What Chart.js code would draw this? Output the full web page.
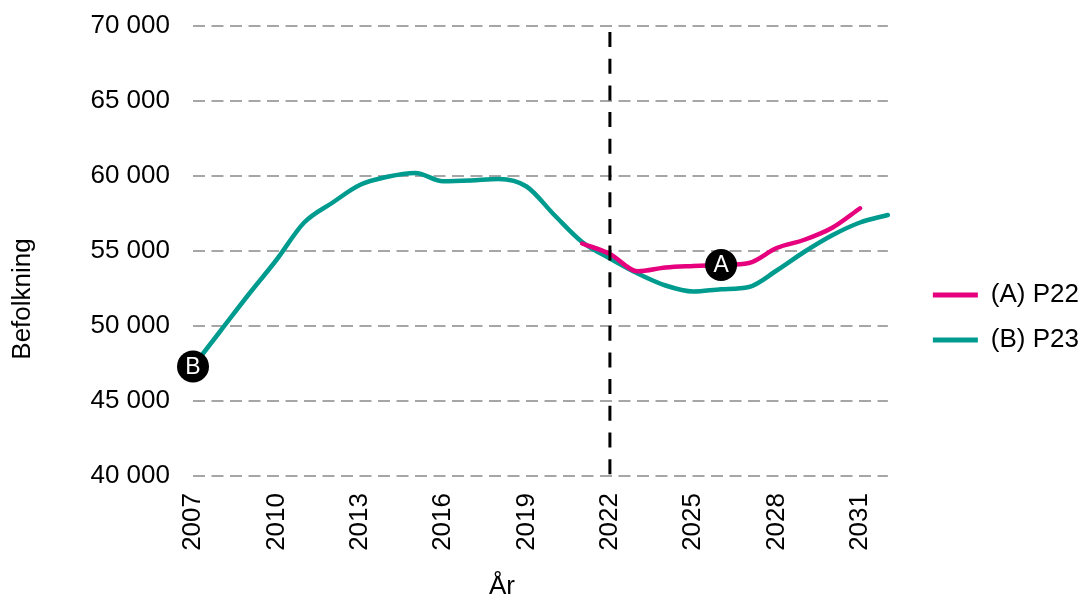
<!DOCTYPE html>
<html>
<head>
<meta charset="utf-8">
<script src="https://cdn.jsdelivr.net/npm/chart.js@4.4.1/dist/chart.umd.min.js"></script>
<style>
html,body{margin:0;padding:0;background:#ffffff;}
#wrap{width:1089px;height:599px;position:relative;}
</style>
</head>
<body>
<div id="wrap"><canvas id="c" width="1089" height="599"></canvas></div>
<script>
// ---- data ----
const years = [2007,2008,2009,2010,2011,2012,2013,2014,2015,2016,2017,2018,2019,2020,2021,2022,2023,2024,2025,2026,2027,2028,2029,2030,2031,2032];
const p23 = [47300,49700,52100,54400,56900,58200,59400,59950,60200,59650,59700,59800,59300,57400,55600,54500,53500,52700,52300,52450,52600,53700,54950,56050,56900,57400];
const p22Years = [2021,2022,2023,2024,2025,2026,2027,2028,2029,2030,2031];
const p22 = [55500,54800,53650,53900,54000,54070,54200,55200,55750,56550,57850];
const xTicks = [2007,2010,2013,2016,2019,2022,2025,2028,2031];
const yTicks = [40000,45000,50000,55000,60000,65000,70000];
const seriesNames = ['(A) P22','(B) P23'];
const markerTexts = ['A','B'];
const markerYears = [2026,2007];
const forecastYear = 2022;
const forecastSpan = [69600,40000];
const xTitle = 'År';
const yTitle = 'Befolkning';

// ---- styling ----
const FONT = '"Liberation Sans", Arial, sans-serif';
const PINK = '#E6007E';
const TEAL = '#009B8F';
const MARK_R = 16;

const pts = (xs, ys) => xs.map((x, i) => ({x: x, y: ys[i]}));
const radii = (xs, yr) => xs.map(x => x === yr ? MARK_R : 0);

const markerPlugin = {
  id: 'markerLetters',
  afterDatasetsDraw(chart) {
    const ctx = chart.ctx;
    ctx.save();
    ctx.fillStyle = '#ffffff';
    ctx.font = '23px ' + FONT;
    ctx.textAlign = 'center';
    ctx.textBaseline = 'middle';
    const specs = [
      {ds: 1, idx: p22Years.indexOf(markerYears[0]), text: markerTexts[0]},
      {ds: 2, idx: years.indexOf(markerYears[1]), text: markerTexts[1]}
    ];
    specs.forEach(s => {
      const el = chart.getDatasetMeta(s.ds).data[s.idx];
      if (el) ctx.fillText(s.text, el.x, el.y + 1);
    });
    ctx.restore();
  },
  afterDraw(chart) {
    const ctx = chart.ctx;
    ctx.save();
    ctx.fillStyle = '#000000';
    ctx.font = '26px ' + FONT;
    ctx.textAlign = 'center';
    ctx.textBaseline = 'middle';
    ctx.fillText(xTitle, 502, 587);
    ctx.translate(23, 299);
    ctx.rotate(-Math.PI / 2);
    ctx.fillText(yTitle, 0, 0);
    ctx.restore();
  }
};

new Chart(document.getElementById('c'), {
  type: 'line',
  data: {
    datasets: [
      {
        label: 'forecast',
        data: pts([forecastYear, forecastYear], forecastSpan),
        borderColor: '#000000',
        borderWidth: 3,
        borderDash: [15, 11.7],
        pointRadius: 0,
        fill: false
      },
      {
        label: seriesNames[0],
        data: pts(p22Years, p22),
        borderColor: PINK,
        backgroundColor: PINK,
        borderWidth: 4.5,
        cubicInterpolationMode: 'monotone',
        borderCapStyle: 'round',
        pointRadius: radii(p22Years, markerYears[0]),
        pointBackgroundColor: '#000000',
        pointBorderColor: '#000000',
        pointBorderWidth: 0,
        clip: false,
        fill: false
      },
      {
        label: seriesNames[1],
        data: pts(years, p23),
        borderColor: TEAL,
        backgroundColor: TEAL,
        borderWidth: 4.5,
        cubicInterpolationMode: 'monotone',
        borderCapStyle: 'round',
        pointRadius: radii(years, markerYears[1]),
        pointBackgroundColor: '#000000',
        pointBorderColor: '#000000',
        pointBorderWidth: 0,
        clip: false,
        fill: false
      }
    ]
  },
  options: {
    responsive: false,
    animation: false,
    events: [],
    layout: {padding: {top: 26, right: 0, bottom: 0, left: 0}},
    plugins: {
      tooltip: {enabled: false},
      legend: {
        position: 'right',
        title: {display: true, text: '', font: {size: 10, lineHeight: 1}, padding: 0},
        labels: {
          font: {family: FONT, size: 26},
          color: '#000000',
          boxWidth: 45,
          boxHeight: 5,
          padding: 19,
          filter: item => item.datasetIndex !== 0,
          generateLabels: chart => Chart.defaults.plugins.legend.labels.generateLabels(chart).map(l => {
            const ds = chart.data.datasets[l.datasetIndex];
            l.fillStyle = ds.borderColor;
            l.lineWidth = 0;
            l.lineDash = [];
            return l;
          })
        }
      }
    },
    scales: {
      x: {
        type: 'linear',
        min: years[0],
        max: years[years.length - 1],
        afterBuildTicks: s => { s.ticks = xTicks.map(v => ({value: v})); },
        afterFit: s => { s.height = 123; },
        grid: {display: false, drawTicks: false},
        border: {display: false},
        ticks: {
          autoSkip: false,
          minRotation: 90,
          maxRotation: 90,
          padding: 17,
          color: '#000000',
          font: {family: FONT, size: 26},
          callback: v => String(v)
        }
      },
      y: {
        type: 'linear',
        min: yTicks[0],
        max: yTicks[yTicks.length - 1],
        afterBuildTicks: s => { s.ticks = yTicks.map(v => ({value: v})); },
        afterFit: s => { s.width = 193; },
        grid: {color: '#A6A6A6', lineWidth: 2, drawTicks: true, tickLength: 23, tickColor: 'rgba(0,0,0,0)'},
        border: {display: false, dash: [12, 6.5]},
        ticks: {
          padding: 0,
          color: '#000000',
          font: {family: FONT, size: 26},
          callback: v => String(v).replace(/\B(?=(\d{3})+(?!\d))/g, ' ')
        }
      },
      gap: {
        type: 'linear',
        position: 'right',
        display: true,
        grid: {display: false, drawTicks: false},
        border: {display: false},
        ticks: {display: false},
        afterFit: s => { s.width = 26; }
      }
    }
  },
  plugins: [markerPlugin]
});
</script>
</body>
</html>
